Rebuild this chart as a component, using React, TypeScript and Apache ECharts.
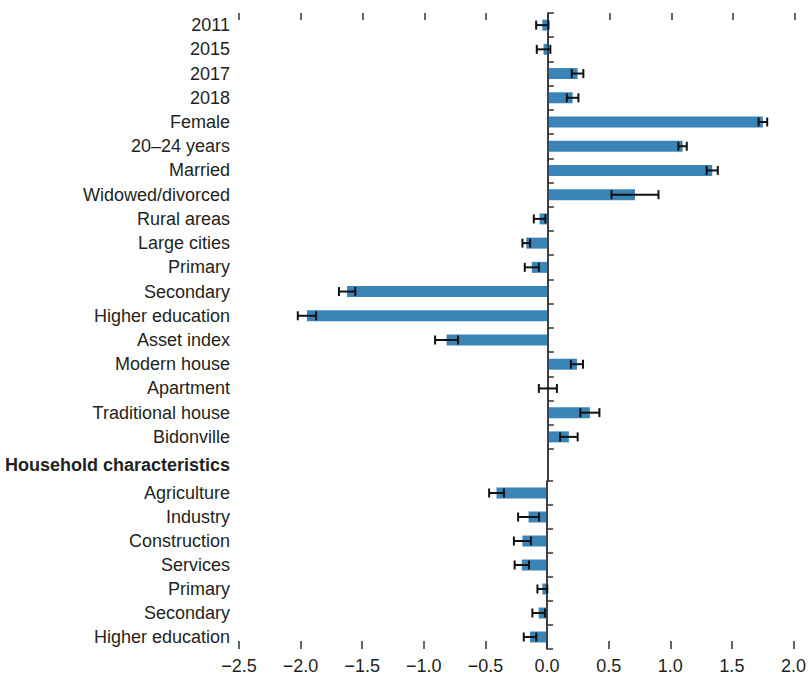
import React, { useEffect, useRef } from "react";
import * as echarts from "echarts";

// Individual characteristics (upper block)
const topCategories = [
  "2011",
  "2015",
  "2017",
  "2018",
  "Female",
  "20–24 years",
  "Married",
  "Widowed/divorced",
  "Rural areas",
  "Large cities",
  "Primary",
  "Secondary",
  "Higher education",
  "Asset index",
  "Modern house",
  "Apartment",
  "Traditional house",
  "Bidonville",
];
const topValues = [
  -0.045, -0.035, 0.24, 0.2, 1.74, 1.09, 1.33, 0.705, -0.067, -0.175, -0.13,
  -1.625, -1.95, -0.82, 0.235, 0, 0.34, 0.17,
];
const topErrors = [
  0.05, 0.055, 0.047, 0.047, 0.035, 0.034, 0.045, 0.19, 0.047, 0.031, 0.057,
  0.066, 0.074, 0.093, 0.049, 0.073, 0.077, 0.071,
];

// Household characteristics (lower block)
const groupHeading = "Household characteristics";
const householdCategories = [
  "Agriculture",
  "Industry",
  "Construction",
  "Services",
  "Primary",
  "Secondary",
  "Higher education",
];
const householdValues = [-0.41, -0.15, -0.2, -0.205, -0.038, -0.068, -0.138];
const householdErrors = [0.06, 0.085, 0.069, 0.058, 0.04, 0.051, 0.051];

// Value axis
const xMin = -2.5;
const xMax = 2.0;
const xInterval = 0.5;

const FONT = '"Liberation Sans Narrow", "Arial Narrow", "Liberation Sans", sans-serif';
const TEXT = "#231f20";
const AXIS = "#333333";
const BAR = "#3b84b7";

const errorBarRenderer = (params: any, api: any) => {
  const v = api.value(0);
  const idx = api.value(1);
  const e = api.value(2);
  const lo = api.coord([v - e, idx]);
  const hi = api.coord([v + e, idx]);
  const cap = 4.5;
  const style = { stroke: "#111111", lineWidth: 2 };
  return {
    type: "group",
    children: [
      { type: "line", shape: { x1: lo[0], y1: lo[1], x2: hi[0], y2: hi[1] }, style },
      { type: "line", shape: { x1: lo[0], y1: lo[1] - cap, x2: lo[0], y2: lo[1] + cap }, style },
      { type: "line", shape: { x1: hi[0], y1: hi[1] - cap, x2: hi[0], y2: hi[1] + cap }, style },
    ],
  };
};

const zeroLine = {
  silent: true,
  symbol: ["none", "none"],
  label: { show: false },
  lineStyle: { color: AXIS, width: 1.5, type: "solid" },
  data: [{ xAxis: 0 }],
};

const fmt = (v: number) => v.toFixed(1).replace("-", "−");

export default function App() {
  const ref = useRef<HTMLDivElement>(null);

  useEffect(() => {
    document.body.style.margin = "0";
    if (!ref.current) return;
    const chart = echarts.init(ref.current, undefined, { renderer: "svg" });

    const valueAxisBase = {
      type: "value",
      min: xMin,
      max: xMax,
      interval: xInterval,
      splitLine: { show: false },
      axisLine: { show: false },
    };

    const catAxisBase = {
      type: "category",
      inverse: true,
      axisLine: { show: true, lineStyle: { color: AXIS, width: 1.5 } },
      axisTick: { show: true, inside: true, length: 6, lineStyle: { color: AXIS, width: 1.5 } },
      axisLabel: { color: TEXT, fontFamily: FONT, fontSize: 18, margin: 9 },
      splitLine: { show: false },
    };

    const option: any = {
      animation: false,
      backgroundColor: "#ffffff",
      grid: [
        { left: 239, right: 14, top: 13, height: 436 },
        { left: 239, right: 14, top: 449, height: 32 },
        { left: 239, right: 14, top: 481, height: 168 },
      ],
      xAxis: [
        {
          ...valueAxisBase,
          gridIndex: 0,
          position: "top",
          axisTick: { show: true, inside: true, length: 7, lineStyle: { color: AXIS, width: 1.5 } },
          axisLabel: { show: false },
        },
        { ...valueAxisBase, gridIndex: 1, show: false },
        {
          ...valueAxisBase,
          gridIndex: 2,
          position: "bottom",
          axisTick: { show: true, inside: true, length: 8, lineStyle: { color: AXIS, width: 1.5 } },
          axisLabel: { color: TEXT, fontFamily: FONT, fontSize: 18, margin: 8, formatter: fmt },
        },
      ],
      yAxis: [
        { ...catAxisBase, gridIndex: 0, data: topCategories },
        {
          ...catAxisBase,
          gridIndex: 1,
          data: [groupHeading],
          axisTick: { show: false },
          axisLabel: { ...catAxisBase.axisLabel, fontWeight: "bold" },
        },
        { ...catAxisBase, gridIndex: 2, data: householdCategories },
      ],
      series: [
        {
          type: "bar",
          xAxisIndex: 0,
          yAxisIndex: 0,
          data: topValues,
          barWidth: 11,
          itemStyle: { color: BAR },
          markLine: zeroLine,
        },
        {
          type: "custom",
          xAxisIndex: 0,
          yAxisIndex: 0,
          renderItem: errorBarRenderer,
          encode: { x: 0, y: 1 },
          data: topValues.map((v, i) => [v, i, topErrors[i]]),
          z: 10,
        },
        {
          type: "bar",
          xAxisIndex: 1,
          yAxisIndex: 1,
          data: ["-"],
          itemStyle: { color: BAR },
          markLine: zeroLine,
        },
        {
          type: "bar",
          xAxisIndex: 2,
          yAxisIndex: 2,
          data: householdValues,
          barWidth: 11,
          itemStyle: { color: BAR },
          markLine: zeroLine,
        },
        {
          type: "custom",
          xAxisIndex: 2,
          yAxisIndex: 2,
          renderItem: errorBarRenderer,
          encode: { x: 0, y: 1 },
          data: householdValues.map((v, i) => [v, i, householdErrors[i]]),
          z: 10,
        },
      ],
    };

    chart.setOption(option);
    return () => chart.dispose();
  }, []);

  return (
    <div
      ref={ref}
      style={{ position: "absolute", left: 0, top: 0, width: 809, height: 676 }}
    />
  );
}
